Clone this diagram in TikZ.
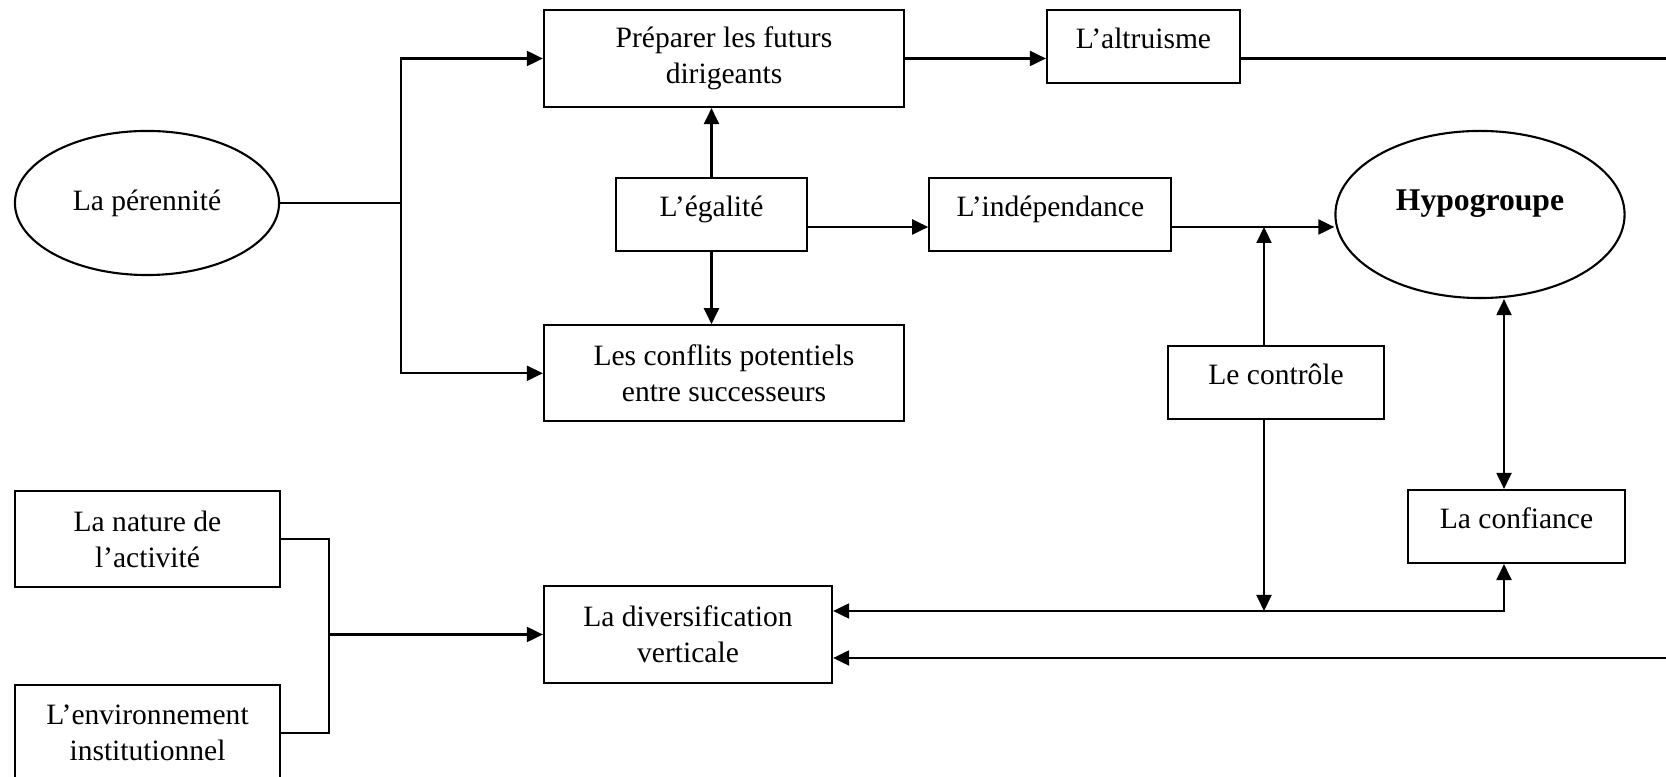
\documentclass[tikz,border=0pt]{standalone}
\usepackage{fontspec}
\setmainfont{Liberation Serif}
\usetikzlibrary{arrows.meta,shapes.geometric,positioning}

\begin{document}
\begin{tikzpicture}[->,>={Triangle[length=0.16cm,width=0.15cm]},line width=0.6pt,
                    x=0.01cm,y=-0.01cm,font=\fontsize{8.4}{10.2}\selectfont,
                    boite/.style={draw,rectangle,align=center,inner sep=0pt},
                    rond/.style={draw,ellipse,align=center,inner sep=0pt},
                    haut/.style={text height=6pt,text depth=5pt}]

 \useasboundingbox (0,0) rectangle (1666,777);

 \node[rond,minimum width=2.64cm,minimum height=1.44cm](per) at (147,203) {La pérennité};
 \node[boite,minimum width=3.6cm,minimum height=0.97cm](prep) at (724,58.5) {Préparer les futurs\\dirigeants};
 \node[boite,haut,minimum width=1.93cm,minimum height=0.73cm](alt) at (1143.5,46.5) {L’altruisme};
 \node[boite,haut,minimum width=1.91cm,minimum height=0.73cm](egal) at (711.5,214.5) {L’égalité};
 \node[boite,haut,minimum width=2.42cm,minimum height=0.73cm](indep) [right=1.2cm of egal] {L’indépendance};
 \node[rond,minimum width=2.89cm,minimum height=1.67cm,font=\fontsize{9}{11}\selectfont\bfseries,
       text height=6.5pt,text depth=8.7pt](hypo) at (1480,214.5) {Hypogroupe};
 \node[boite,minimum width=3.6cm,minimum height=0.96cm](conf) [below=2.16cm of prep] {Les conflits potentiels\\entre successeurs};
 \node[boite,haut,minimum width=2.16cm,minimum height=0.73cm](ctrl) at (1276,382.5) {Le contrôle};
 \node[boite,haut,minimum width=2.17cm,minimum height=0.73cm](confi) at (1516.5,526.5) {La confiance};
 \node[boite,minimum width=2.65cm,minimum height=0.96cm](nat) at (147.5,539) {La nature de\\l’activité};
 \node[boite,minimum width=2.65cm,minimum height=0.96cm](env) [below=0.96cm of nat] {L’environnement\\institutionnel};
 \node[boite,minimum width=2.88cm,minimum height=0.97cm](div) at (688,634.5) {La diversification\\verticale};

 % reperes des lignes
 \coordinate (r2) at (0,227);
 \coordinate (r4) at (0,611);
 \coordinate (cx) at (1264,0);
 \coordinate (cy) at (1504,0);
 \coordinate (bordh) at (1680,58.5);
 \coordinate (bordb) at (1680,658);

 \draw (per.east) -- ++(121,0) coordinate (j1) |- (prep.west);
 \draw (j1) |- (conf.west);
 \draw (prep.east) -- (prep.east -| alt.west);
 \draw[-] (alt.east |- prep.east) -- (bordh);
 \draw (egal.north) -- (egal.north |- prep.south);
 \draw (egal.south) -- (egal.south |- conf.north);
 \draw (egal.east |- r2) -- (indep.west |- r2);
 \draw (indep.east |- r2) -- (r2 -| hypo.west);
 \draw (cx |- ctrl.north) -- (cx |- r2);
 \draw (cx |- ctrl.south) -- (cx |- r4);
 \draw[<->] (r4 -| div.east) -- (r4 -| cy) -- (cy |- confi.south);
 \draw[<->] (cy |- hypo.south) -- (cy |- confi.north);
 \draw (bordb) -- (bordb -| div.east);
 \draw[-] (nat.east) -- ++(48,0) coordinate (j2) |- (env.east);
 \draw (j2 |- div.west) -- (div.west);

\end{tikzpicture}
\end{document}
